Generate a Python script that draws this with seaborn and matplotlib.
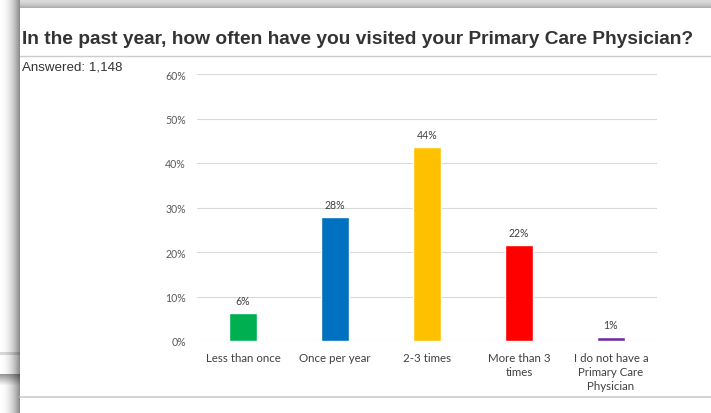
import numpy as np
import pandas as pd
import matplotlib
matplotlib.use("Agg")
import matplotlib.pyplot as plt
import seaborn as sns

categories = ["Less than once", "Once per year", "2-3 times",
              "More than 3\ntimes", "I do not have a\nPrimary Care\nPhysician"]
values = [6.2, 27.8, 43.6, 21.6, 0.9]
labels = ["6%", "28%", "44%", "22%", "1%"]
colors = ["#00B050", "#0070C0", "#FFC000", "#FF0000", "#7030A0"]
yticks = [0, 10, 20, 30, 40, 50, 60]
title = "In the past year, how often have you visited your Primary Care Physician?"
answered = "Answered: 1,148"

sns.set_theme(style="white")
plt.rcParams['font.family'] = ['Lato', 'DejaVu Sans']

W, H = 711, 414
fig = plt.figure(figsize=(W / 100, H / 100), dpi=100)

# background with window shadows
bg = np.ones((H, W, 3))
xs = np.arange(20)
left = 1.0 - 0.45 * (xs / 19.0) ** 2
bg[:, :20, :] = left[None, :, None]
ys = np.arange(9)
top = 0.86 - 0.18 * (ys / 8.0) ** 2
bg[:9, 20:, :] = top[:, None, None]
bg[353:356, :20, :] *= 0.85
shade = np.linspace(0.6, 1.0, 12)
bg[375:387, :20, :] *= shade[:, None, None]
bax = fig.add_axes([0, 0, 1, 1], zorder=-5)
bax.imshow(bg, aspect="auto", extent=(0, W, H, 0))
bax.set_xlim(0, W)
bax.set_ylim(H, 0)
bax.axis("off")
bax.plot([20, W], [57, 57], color="#cccccc", lw=1)
bax.plot([20, W], [398, 398], color="#cccccc", lw=1.2)

fig.text(22 / W, 1 - 44 / H, title, fontsize=13.8, fontweight="bold",
         color="#333333", family=["Liberation Sans"], va="baseline")
fig.text(22 / W, 1 - 70 / H, answered, fontsize=9.6, color="#333333",
         family=["Liberation Sans"], va="baseline")

ax = fig.add_axes([197 / W, 1 - 342 / H, 460 / W, 267 / H])
df = pd.DataFrame({"cat": categories, "val": values})
sns.barplot(data=df, x="cat", y="val", hue="cat", palette=colors,
            legend=False, width=0.3, ax=ax, saturation=1)
ax.set_xlim(-0.5, 4.5)
ax.set_ylim(0, 60)
ax.set_yticks(yticks)
ax.set_yticklabels([f"{t}%" for t in yticks], fontsize=7.6, color="#595959")
ax.tick_params(axis="y", length=0, pad=8)
ax.tick_params(axis="x", length=0, pad=8, labelsize=8.3, labelcolor="#404040")
for lab in ax.get_xticklabels():
    lab.set_linespacing(1.3)
ax.yaxis.grid(True, color="#d9d9d9", lw=0.8)
ax.set_axisbelow(True)
for s in ax.spines.values():
    s.set_visible(False)
ax.set_xlabel("")
ax.set_ylabel("")
ax.set_facecolor("none")
for i, (v, l) in enumerate(zip(values, labels)):
    ax.annotate(l, (i, v), xytext=(0, 5), textcoords="offset points",
                ha="center", va="bottom", fontsize=7.6, color="#404040")

fig.savefig("out.png", dpi=100)
